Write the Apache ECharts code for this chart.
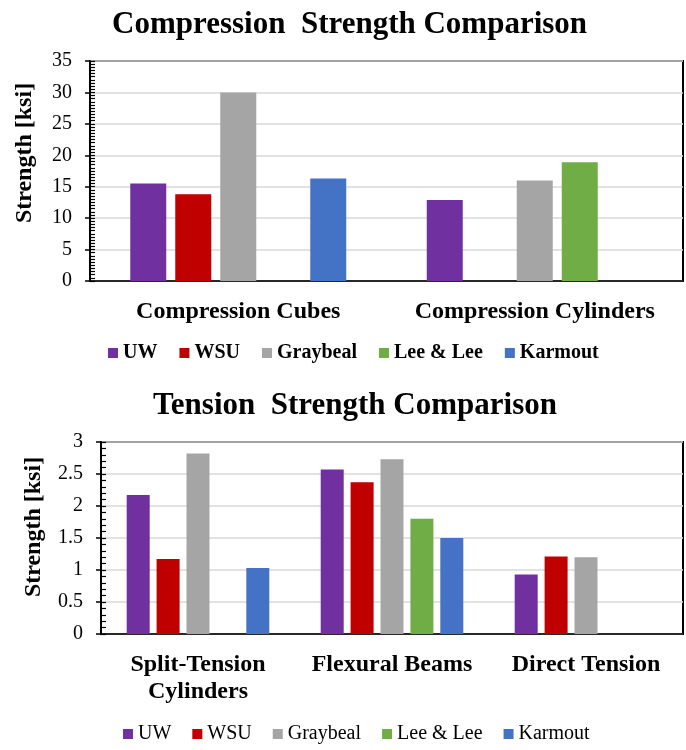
<!DOCTYPE html>
<html><head><meta charset="utf-8">
<script src="https://cdn.jsdelivr.net/npm/echarts@6/dist/echarts.min.js"></script>
<style>html,body{margin:0;padding:0;background:#fff}#c{width:686px;height:750px}</style>
</head><body><div id="c"></div>
<script>
const seriesNames = ['UW', 'WSU', 'Graybeal', 'Lee & Lee', 'Karmout'];
const seriesColors = ['#7030A0', '#C00000', '#A5A5A5', '#70AD47', '#4472C4'];

const compCategories = ['Compression Cubes', 'Compression Cylinders'];
const compUW = [15.5, 12.9];
const compWSU = [13.8, null];
const compGraybeal = [30.0, 16.0];
const compLee = [null, 18.9];
const compKarmout = [16.3, null];

const tensCategories = ['Split-Tension\nCylinders', 'Flexural Beams', 'Direct Tension'];
const tensUW = [2.17, 2.57, 0.93];
const tensWSU = [1.17, 2.37, 1.21];
const tensGraybeal = [2.82, 2.73, 1.20];
const tensLee = [null, 1.80, null];
const tensKarmout = [1.03, 1.50, null];

const compTicks = { min: 0, max: 35, interval: 5, minor: 0.5 };
const tensTicks = { min: 0, max: 3, interval: 0.5, minor: 0.1 };

const FONT = "'Liberation Serif', 'Times New Roman', serif";
const compData = [compUW, compWSU, compGraybeal, compLee, compKarmout];
const tensData = [tensUW, tensWSU, tensGraybeal, tensLee, tensKarmout];

function yAxes(gi, t, gap, shift) {
  return [{
    type: 'value', gridIndex: gi, min: t.min, max: t.max, interval: t.interval,
    name: 'Strength [ksi]', nameLocation: 'middle', nameGap: gap,
    nameTextStyle: { fontFamily: FONT, fontWeight: 'bold', fontSize: 24, color: '#000', padding: [0, 0, 0, shift] },
    axisLine: { show: true, lineStyle: { color: '#000', width: 2 } },
    axisTick: { show: true, length: 5, lineStyle: { color: '#000', width: 1.5 } },
    axisLabel: { fontFamily: FONT, fontSize: 20, color: '#000', margin: 18 },
    splitLine: { show: true, lineStyle: { color: '#D9D9D9', width: 1.5 } }
  }, {
    type: 'value', gridIndex: gi, min: t.min, max: t.max, interval: t.minor, position: 'left',
    axisLine: { show: false },
    axisTick: { show: true, inside: true, length: 5, lineStyle: { color: '#000', width: 1.2 } },
    axisLabel: { show: false }, splitLine: { show: false }
  }];
}

function xAxis(gi, cats) {
  return {
    type: 'category', gridIndex: gi, data: cats,
    axisLine: { show: true, lineStyle: { color: '#000', width: 1.5 } },
    axisTick: { show: false },
    axisLabel: { fontFamily: FONT, fontWeight: 'bold', fontSize: 24, color: '#000', margin: 17, lineHeight: 27, interval: 0 }
  };
}

const series = [];
seriesNames.forEach((n, i) => {
  series.push({ name: n, type: 'bar', xAxisIndex: 0, yAxisIndex: 0, data: compData[i],
    barWidth: 36, barGap: '25%', itemStyle: { color: seriesColors[i] } });
});
seriesNames.forEach((n, i) => {
  series.push({ name: n, type: 'bar', xAxisIndex: 1, yAxisIndex: 2, data: tensData[i],
    barWidth: 23, barGap: '30%', itemStyle: { color: seriesColors[i] } });
});

const chart = echarts.init(document.getElementById('c'), null, { renderer: 'canvas' });
chart.setOption({
  animation: false,
  backgroundColor: '#fff',
  color: seriesColors,
  title: [
    { text: 'Compression  Strength Comparison', left: 107, top: 4,
      textStyle: { fontFamily: FONT, fontWeight: 'bold', fontSize: 31, color: '#000' } },
    { text: 'Tension  Strength Comparison', left: 148, top: 385,
      textStyle: { fontFamily: FONT, fontWeight: 'bold', fontSize: 31, color: '#000' } }
  ],
  legend: [
    { data: seriesNames, top: 338, left: 103, icon: 'rect', itemWidth: 10, itemHeight: 10, itemGap: 22,
      textStyle: { fontFamily: FONT, fontWeight: 'bold', fontSize: 20, color: '#000' } },
    { data: seriesNames, top: 719, left: 118, icon: 'rect', itemWidth: 10, itemHeight: 10, itemGap: 21,
      textStyle: { fontFamily: FONT, fontSize: 20, color: '#000' } }
  ],
  grid: [
    { left: 90, right: 3, top: 61, height: 220, show: true, borderColor: '#000', borderWidth: 2, containLabel: false },
    { left: 101, right: 3, top: 442, height: 192, show: true, borderColor: '#000', borderWidth: 2, containLabel: false }
  ],
  xAxis: [xAxis(0, compCategories), xAxis(1, tensCategories)],
  yAxis: [...yAxes(0, compTicks, 53, 36), ...yAxes(1, tensTicks, 55, 22)],
  series: series
});
</script></body></html>
